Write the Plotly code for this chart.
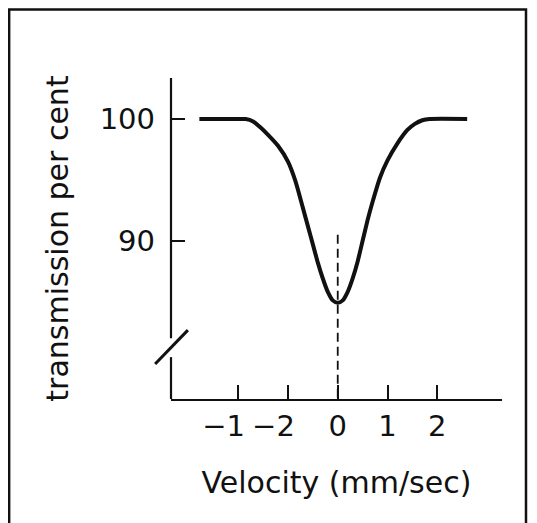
import plotly.graph_objects as go

# ---- data ----
velocity = [-2.78, -2.0, -1.85, -1.7, -1.55, -1.4, -1.2, -1.0, -0.85, -0.7, -0.6, -0.5, -0.4, -0.3,
            -0.2, -0.1, 0.0, 0.1, 0.2, 0.3, 0.4, 0.5, 0.6, 0.7, 0.85, 1.0, 1.2, 1.4, 1.55, 1.7,
            1.85, 2.6]
transmission = [100, 100, 100, 99.8, 99.3, 98.7, 97.8, 96.5, 94.9, 92.7, 91.2, 89.7, 88.2, 86.9,
                85.8, 85.1, 84.9, 85.1, 85.8, 86.9, 88.3, 90.0, 91.7, 93.2, 95.2, 96.6, 98.0,
                99.1, 99.6, 99.9, 100, 100]

center_x = [0, 0]
center_y = [90.5, 77.0]

x_tickvals = [-2, -1, 0, 1, 2]
x_ticktext = ["\u22121\u2003", "\u22122\u2003", "0", "1", "2"]
y_tickvals = [90, 100]
y_ticktext = ["90", "100"]

x_range = [-3.35, 3.30]
y_range = [77.0, 103.37]

FONT = "DejaVu Sans"
INK = "#111111"

fig = go.Figure()
fig.add_trace(go.Scatter(x=velocity, y=transmission, mode="lines",
                         line=dict(color=INK, width=4, shape="spline", smoothing=0.6),
                         hoverinfo="skip", showlegend=False))
fig.add_trace(go.Scatter(x=center_x, y=center_y, mode="lines",
                         line=dict(color=INK, width=1.8, dash="9px,5px"),
                         hoverinfo="skip", showlegend=False))

# y axis drawn in two segments with a break mark
ln = dict(color=INK, width=2.2)
fig.add_shape(type="line", xref="paper", yref="y", x0=0, x1=0, y0=y_range[1], y1=82.0, line=ln)
fig.add_shape(type="line", xref="paper", yref="y", x0=0, x1=0, y0=80.44, y1=y_range[0], line=ln)
fig.add_shape(type="line", xref="paper", yref="y", x0=0.051, x1=-0.048, y0=82.66, y1=79.87,
              line=dict(color=INK, width=3))
# outer frame
fig.add_shape(type="rect", xref="paper", yref="paper", x0=-0.489, x1=1.0725, y0=-0.5, y1=1.2134,
              line=dict(color=INK, width=2.5))

fig.update_layout(
    width=537, height=523, autosize=False,
    margin=dict(l=163, r=43, t=70, b=132),
    paper_bgcolor="white", plot_bgcolor="white",
    font=dict(family=FONT, size=28, color=INK),
    xaxis=dict(range=x_range, showgrid=False, zeroline=False, automargin=False,
               showline=True, linecolor=INK, linewidth=2.4,
               ticks="inside", ticklen=14, tickwidth=2, tickcolor=INK,
               tickvals=x_tickvals, ticktext=x_ticktext, tickangle=0,
               tickfont=dict(family=FONT, size=29, color=INK),
               ticklabelstandoff=0,
               title=dict(text="Velocity (mm/sec)", font=dict(family=FONT, size=30, color=INK),
                          standoff=30)),
    yaxis=dict(range=y_range, showgrid=False, zeroline=False, showline=False, automargin=False,
               ticks="inside", ticklen=14, tickwidth=2, tickcolor=INK,
               tickvals=y_tickvals, ticktext=y_ticktext,
               tickfont=dict(family=FONT, size=29, color=INK),
               ticklabelstandoff=15,
               title=dict(text="transmission per cent", font=dict(family=FONT, size=30, color=INK),
                          standoff=22)),
)

fig.write_html("out.html")
